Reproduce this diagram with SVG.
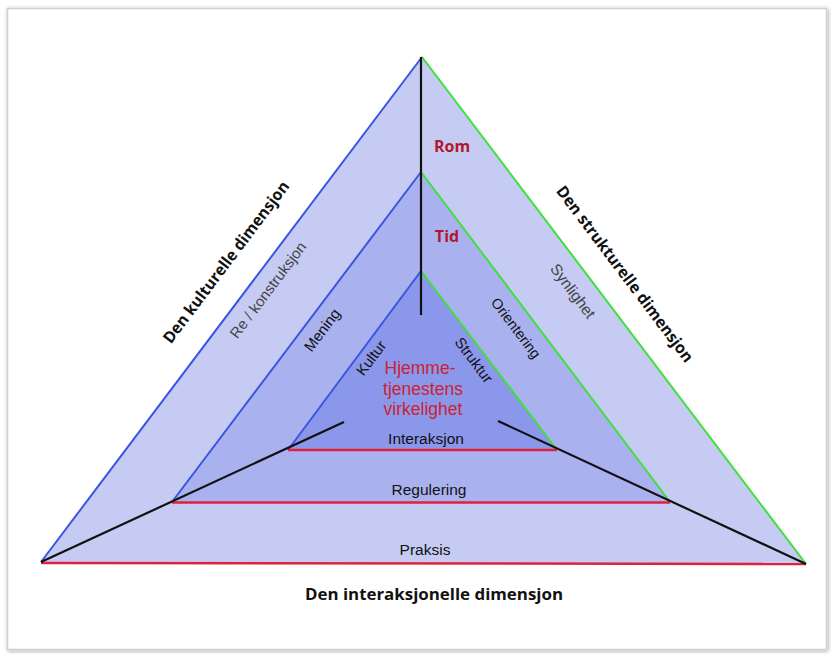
<svg xmlns="http://www.w3.org/2000/svg" width="831" height="654" viewBox="0 0 831 654">
  <defs>
    <filter id="shadow" x="-5%" y="-5%" width="110%" height="110%">
      <feGaussianBlur in="SourceAlpha" stdDeviation="2"/>
      <feOffset dx="1" dy="1" result="b"/>
      <feComponentTransfer><feFuncA type="linear" slope="0.35"/></feComponentTransfer>
      <feMerge><feMergeNode/><feMergeNode in="SourceGraphic"/></feMerge>
    </filter>
    <style>
      .band-outer { fill: #c6cbf4; }
      .band-mid { fill: #a9b2ef; }
      .band-inner { fill: #8b97ea; }
      .edge-l { stroke: #3a55e0; stroke-width: 2; fill: none; }
      .edge-r { stroke: #3ee03a; stroke-width: 2; fill: none; }
      .edge-b { stroke: #e0203c; stroke-width: 2.5; fill: none; }
      .axis { stroke: #111; stroke-width: 2.2; fill: none; }
      .lbl { font-family: "Liberation Sans", Arial, sans-serif; font-size: 15.5px; fill: #111; text-anchor: middle; }
      .soft { fill: #444; }
      .dim { font-family: "Open Sans", "Liberation Sans", sans-serif; font-weight: bold; font-size: 16px; fill: #111; text-anchor: middle; }
      .key { font-family: "Open Sans", "Liberation Sans", sans-serif; font-weight: bold; font-size: 16px; fill: #b0182c; text-anchor: middle; }
      .core { font-family: "Liberation Sans", Arial, sans-serif; font-size: 17.5px; fill: #cc2233; text-anchor: middle; }
    </style>
  </defs>

  <!-- page frame -->
  <rect x="0" y="0" width="831" height="654" fill="#ffffff"/>
  <rect x="7.5" y="8.5" width="819" height="641" fill="#ffffff" stroke="#cfcfcf" stroke-width="1.5" filter="url(#shadow)"/>

  <!-- nested triangles -->
  <g id="outer-triangle">
    <polygon class="band-outer" points="422,57 41,562 806,564"/>
    <line class="edge-l" x1="422" y1="57" x2="41" y2="562"/>
    <line class="edge-r" x1="422" y1="57" x2="806" y2="564"/>
  </g>
  <g id="middle-triangle">
    <polygon class="band-mid" points="421,172 172,502 670,502"/>
    <line class="edge-l" x1="421" y1="172" x2="172" y2="502"/>
    <line class="edge-r" x1="421" y1="172" x2="670" y2="502"/>
  </g>
  <g id="inner-triangle">
    <polygon class="band-inner" points="421,271 288,450 557,450"/>
    <line class="edge-l" x1="421" y1="271" x2="288" y2="450"/>
    <line class="edge-r" x1="421" y1="271" x2="557" y2="450"/>
  </g>

  <!-- axes and base lines -->
  <g id="connectors">
    <line class="edge-b" x1="41" y1="563" x2="806" y2="564"/>
    <line class="edge-b" x1="172" y1="502.5" x2="670" y2="502.5"/>
    <line class="edge-b" x1="288" y1="450" x2="557" y2="450"/>
    <line class="axis" x1="421" y1="57" x2="421" y2="315"/>
    <line class="axis" x1="41" y1="562" x2="344" y2="422"/>
    <line class="axis" x1="498" y1="421" x2="806" y2="564"/>
  </g>

  <!-- vertical axis labels -->
  <g id="label-rom"><text class="key" x="452" y="152">Rom</text></g>
  <g id="label-tid"><text class="key" x="447" y="242">Tid</text></g>

  <!-- centre -->
  <g id="label-core">
    <text class="core" x="420" y="374">Hjemme-</text>
    <text class="core" x="423" y="395">tjenestens</text>
    <text class="core" x="423" y="415">virkelighet</text>
  </g>

  <!-- base labels -->
  <g id="label-interaksjon"><text class="lbl" x="426" y="444">Interaksjon</text></g>
  <g id="label-regulering"><text class="lbl" x="429" y="495">Regulering</text></g>
  <g id="label-praksis"><text class="lbl" x="425" y="555">Praksis</text></g>

  <!-- left side labels -->
  <g id="label-kultur"><text class="lbl" style="font-size:15px" transform="translate(371,358) rotate(-53)" dy="0.35em">Kultur</text></g>
  <g id="label-mening"><text class="lbl" style="font-size:15px" transform="translate(322,330) rotate(-53)" dy="0.35em">Mening</text></g>
  <g id="label-rekonstruksjon"><text class="lbl soft" style="font-size:15px" transform="translate(268,290) rotate(-53)" dy="0.35em">Re / konstruksjon</text></g>

  <!-- right side labels -->
  <g id="label-struktur"><text class="lbl" style="font-size:15px" transform="translate(474,360) rotate(53)" dy="0.35em">Struktur</text></g>
  <g id="label-orientering"><text class="lbl" style="font-size:14.5px" transform="translate(516,328) rotate(53)" dy="0.35em">Orientering</text></g>
  <g id="label-synlighet"><text class="lbl soft" style="font-size:15.5px" transform="translate(573,291) rotate(53)" dy="0.35em">Synlighet</text></g>

  <!-- dimension titles -->
  <g id="dim-kulturell"><text class="dim" transform="translate(226,262) rotate(-53)" dy="0.35em" textLength="198" lengthAdjust="spacingAndGlyphs">Den kulturelle dimensjon</text></g>
  <g id="dim-strukturell"><text class="dim" transform="translate(625,274) rotate(53)" dy="0.35em" textLength="216" lengthAdjust="spacingAndGlyphs">Den strukturelle dimensjon</text></g>
  <g id="dim-interaksjonell"><text class="dim" x="434" y="600" textLength="258" lengthAdjust="spacingAndGlyphs">Den interaksjonelle dimensjon</text></g>
</svg>
